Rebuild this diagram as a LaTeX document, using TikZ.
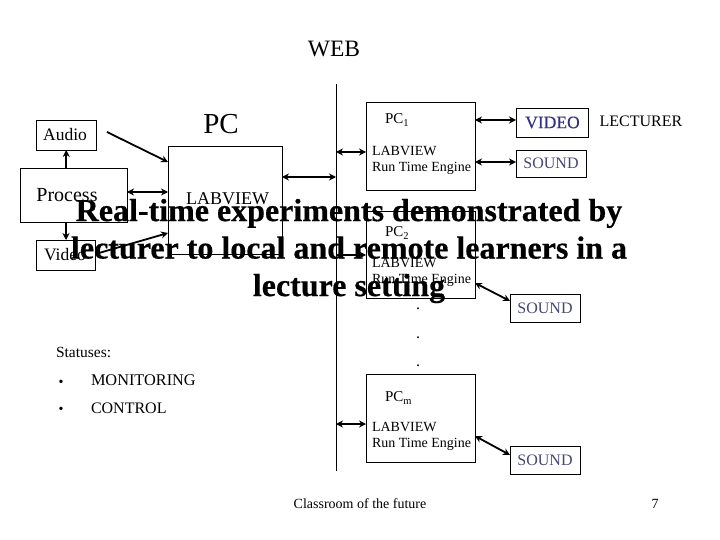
\documentclass[tikz,border=0pt]{standalone}
\usepackage{fontspec}
\setmainfont{Liberation Serif}
\newfontfamily\headfont{Liberation Serif Bold}[FakeBold=0.5]
\newfontfamily\vidfont{Liberation Serif}[FakeBold=0.4]
\usetikzlibrary{arrows.meta,fit}
\definecolor{vidblue}{RGB}{50,50,130}
\definecolor{sndblue}{RGB}{70,70,120}
\tikzset{
  box/.style={draw=black,line width=0.9pt,inner sep=0pt,outer sep=0pt,fill=none},
  txt/.style={inner sep=0pt,outer sep=0pt,font=\fontsize{#1}{#1}\selectfont},
  lft/.style={txt=#1,anchor=west},
  link/.style={line width=1.8pt,{Stealth[length=7pt,width=7pt]}-{Stealth[length=7pt,width=7pt]}},
  oneway/.style={line width=1.8pt,-{Stealth[length=7pt,width=7pt]}},
  rail/.style={line width=1pt},
  headline/.style={inner sep=0pt,align=center,font=\fontsize{32}{37.5}\selectfont\headfont}
}
\begin{document}
\begin{tikzpicture}[x=1pt,y=-1pt]
\useasboundingbox[fill=white] (0,0) rectangle (720,540);
% boxes
\node[box,fit={(36.5,120)(96,150)}] (audio) {};
\node[box,fit={(20,168)(127,222)}] (proc) {};
\node[box,fit={(36.5,240)(95.5,270)}] (video) {};
\node[box,fit={(168,146)(282,254)}] (pc) {};
\node[box,fit={(366,102)(475,190)}] (pcone) {};
\node[box,fit={(366,211)(475,298)}] (pctwo) {};
\node[box,fit={(366,374)(475,462)}] (pcm) {};
\node[box,fit={(516,108)(588,137)}] (vid) {};
\node[box,fit={(516,150)(586,177)}] (sndone) {};
\node[box,fit={(510,294)(580,322)}] (sndtwo) {};
\node[box,fit={(510,446)(580,474)}] (sndm) {};
% web rail
\coordinate (railT) at (336,84);
\coordinate (railB) at (336,471);
\draw[rail] (railT) -- (railB);
% connectors
\coordinate (audioOut) at (107,132);
\draw[oneway] (audioOut) -- (pc.west |- 0,162);
\draw[oneway] (proc.north -| audio.south) -- (audio.south);
\draw[link] (proc.east |- 0,192) -- (pc.west |- 0,192);
\draw[oneway] (proc.south -| video.north) -- (video.north);
\draw[oneway] (video.east |- 0,254) -- (pc.west |- 0,233);
\draw[link] (pc.east |- 0,177) -- (railT |- 0,177);
\draw[link] (railT |- 0,152) -- (pcone.west |- 0,152);
\draw[link] (railT |- 0,255) -- (pctwo.west |- 0,255);
\draw[link] (railT |- 0,424) -- (pcm.west |- 0,424);
\draw[link] (pcone.east |- 0,120) -- (vid.west |- 0,120);
\draw[link] (pcone.east |- 0,162) -- (sndone.west |- 0,162);
\draw[link] (pctwo.east |- 0,283) -- (sndtwo.west |- 0,301);
\draw[link] (pcm.east |- 0,436) -- (sndm.west |- 0,455);
% labels
\node[txt=23.5] (lweb) at (334,49) {WEB};
\node[txt=29] (lpc) at (221,124) {PC};
\node[txt=17.5] (laud) at (65,135) {Audio};
\node[txt=20] (lproc) at (67,195) {Process};
\node[txt=17.5] (lvid) at (65,255) {Video};
\node[txt=18] (llab) at (227.5,199) {LABVIEW};
\node[lft=15] (lp1) at (385,120) {PC\textsubscript{1}};
\node[lft=14] (ll1) at (372,151) {LABVIEW};
\node[lft=14] (lr1) at (372,168) {Run Time Engine};
\node[lft=15] (lp2) at (385,233) {PC\textsubscript{2}};
\node[lft=14] (ll2) at (372,263) {LABVIEW};
\node[lft=14] (lr2) at (372,280) {Run Time Engine};
\node[lft=15] (lpm) at (385,398) {PC\textsubscript{m}};
\node[lft=14] (llm) at (372,427) {LABVIEW};
\node[lft=14] (lrm) at (372,444) {Run Time Engine};
\node[txt=17.5,text=vidblue] (lvv) at (552.5,122.5) {\vidfont VIDEO};
\node[txt=16,text=sndblue] (ls1) at (551,163.5) {SOUND};
\node[txt=16,text=sndblue] (ls2) at (545,308.5) {SOUND};
\node[txt=16,text=sndblue] (ls3) at (545,460.5) {SOUND};
\node[txt=16] (llec) at (641,121) {LECTURER};
\node[txt=16] (d1) at (418,309) {.};
\node[txt=16] (d2) at (418,338) {.};
\node[txt=16] (d3) at (418,366) {.};
\node[lft=15.5] (lst) at (56,352) {Statuses:};
\node[txt=14] (b1) at (61,383) {•};
\node[lft=16.3] (lmon) at (91,380) {MONITORING};
\node[txt=14] (b2) at (61,410) {•};
\node[lft=16] (lcon) at (91,408) {CONTROL};
\node[txt=14] (lclass) at (360,504) {Classroom of the future};
\node[txt=14] (lnum) at (655,504) {7};
\node[headline] (head) at (349,251) {Real-time experiments demonstrated by\\lecturer to local and remote learners in a\\lecture setting};
\end{tikzpicture}
\end{document}
